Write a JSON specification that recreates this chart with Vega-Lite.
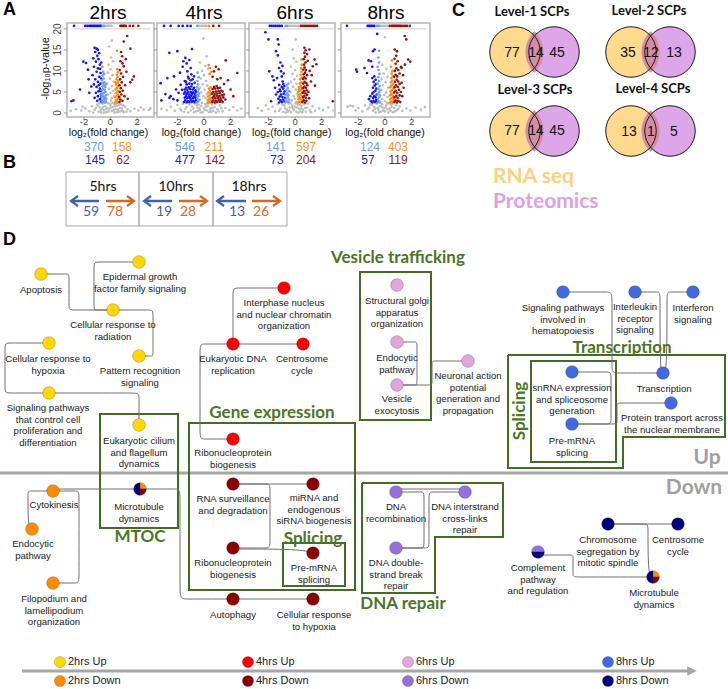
{
"$schema":"https://vega.github.io/schema/vega-lite/v6.json",
"width":728,"height":689,"autosize":"none","padding":0,"background":"white",
"config":{"view":{"stroke":null},"text":{"font":"Liberation Sans"}},
"datasets":{
"xt":[{"v":-2},{"v":0},{"v":2}],
"yt":[{"v":0},{"v":5},{"v":10},{"v":15},{"v":20}],
"guides":[{"x":0,"x2":728,"y":473},{"x":22,"x2":689,"y":671}],
"arrowhead":[{"x":692,"y":671}],
"boxes":[{"b":"Vesicle trafficking","x":360,"x2":431,"y":272,"y2":420},{"b":"Gene expression","x":189,"x2":355,"y":423,"y2":590},{"b":"MTOC","x":100,"x2":178,"y":414,"y2":528},{"b":"Splicing up","x":531,"x2":616,"y":361,"y2":462},{"b":"Splicing down","x":283,"x2":345,"y":543,"y2":586}],
"polys":[
{"b":"Transcription","i":0,"x":508,"y":355},{"b":"Transcription","i":1,"x":725,"y":355},{"b":"Transcription","i":2,"x":725,"y":437},{"b":"Transcription","i":3,"x":623,"y":437},{"b":"Transcription","i":4,"x":623,"y":468},{"b":"Transcription","i":5,"x":508,"y":468},{"b":"Transcription","i":6,"x":508,"y":355},
{"b":"DNA repair","i":0,"x":362,"y":483},{"b":"DNA repair","i":1,"x":503,"y":483},{"b":"DNA repair","i":2,"x":503,"y":537},{"b":"DNA repair","i":3,"x":435,"y":537},{"b":"DNA repair","i":4,"x":435,"y":593},{"b":"DNA repair","i":5,"x":362,"y":593},{"b":"DNA repair","i":6,"x":362,"y":483}],
"edges":[
{"e":1,"i":0,"x":41,"y":274},{"e":1,"i":1,"x":69,"y":274},{"e":1,"i":2,"x":69,"y":274},{"e":1,"i":3,"x":69,"y":310},{"e":1,"i":4,"x":69,"y":310},{"e":1,"i":5,"x":113,"y":310},
{"e":2,"i":0,"x":139,"y":262},{"e":2,"i":1,"x":94,"y":262},{"e":2,"i":2,"x":94,"y":262},{"e":2,"i":3,"x":94,"y":310},{"e":2,"i":4,"x":94,"y":310},{"e":2,"i":5,"x":113,"y":310},
{"e":3,"i":0,"x":113,"y":310},{"e":3,"i":1,"x":153,"y":310},{"e":3,"i":2,"x":153,"y":310},{"e":3,"i":3,"x":153,"y":356},{"e":3,"i":4,"x":153,"y":356},{"e":3,"i":5,"x":139,"y":356},
{"e":4,"i":0,"x":49,"y":343},{"e":4,"i":1,"x":5,"y":343},{"e":4,"i":2,"x":5,"y":343},{"e":4,"i":3,"x":5,"y":393},{"e":4,"i":4,"x":5,"y":393},{"e":4,"i":5,"x":49,"y":393},
{"e":5,"i":0,"x":49,"y":393},{"e":5,"i":1,"x":139,"y":393},{"e":5,"i":2,"x":139,"y":393},{"e":5,"i":3,"x":139,"y":425},
{"e":6,"i":0,"x":284,"y":288},{"e":6,"i":1,"x":233,"y":288},{"e":6,"i":2,"x":233,"y":288},{"e":6,"i":3,"x":233,"y":344},
{"e":7,"i":0,"x":233,"y":344},{"e":7,"i":1,"x":303,"y":344},
{"e":8,"i":0,"x":233,"y":344},{"e":8,"i":1,"x":200,"y":344},{"e":8,"i":2,"x":200,"y":344},{"e":8,"i":3,"x":200,"y":439},{"e":8,"i":4,"x":200,"y":439},{"e":8,"i":5,"x":233,"y":439},
{"e":9,"i":0,"x":397,"y":342},{"e":9,"i":1,"x":417,"y":342},{"e":9,"i":2,"x":417,"y":342},{"e":9,"i":3,"x":417,"y":385},{"e":9,"i":4,"x":417,"y":385},{"e":9,"i":5,"x":397,"y":385},
{"e":10,"i":0,"x":397,"y":385},{"e":10,"i":1,"x":432,"y":385},{"e":10,"i":2,"x":432,"y":385},{"e":10,"i":3,"x":432,"y":361},{"e":10,"i":4,"x":432,"y":361},{"e":10,"i":5,"x":468,"y":361},
{"e":11,"i":0,"x":563,"y":292},{"e":11,"i":1,"x":612,"y":292},{"e":11,"i":2,"x":612,"y":292},{"e":11,"i":3,"x":612,"y":373},{"e":11,"i":4,"x":612,"y":373},{"e":11,"i":5,"x":663,"y":373},
{"e":12,"i":0,"x":635,"y":292},{"e":12,"i":1,"x":660,"y":292},{"e":12,"i":2,"x":660,"y":292},{"e":12,"i":3,"x":660,"y":373},{"e":12,"i":4,"x":663,"y":373},
{"e":13,"i":0,"x":693,"y":292},{"e":13,"i":1,"x":667,"y":292},{"e":13,"i":2,"x":667,"y":292},{"e":13,"i":3,"x":667,"y":373},{"e":13,"i":4,"x":663,"y":373},
{"e":14,"i":0,"x":572,"y":372},{"e":14,"i":1,"x":611,"y":372},{"e":14,"i":2,"x":611,"y":372},{"e":14,"i":3,"x":611,"y":424},{"e":14,"i":4,"x":611,"y":424},{"e":14,"i":5,"x":572,"y":424},
{"e":15,"i":0,"x":572,"y":424},{"e":15,"i":1,"x":617,"y":424},{"e":15,"i":2,"x":617,"y":424},{"e":15,"i":3,"x":617,"y":403},{"e":15,"i":4,"x":617,"y":403},{"e":15,"i":5,"x":671,"y":403},
{"e":16,"i":0,"x":53,"y":491},{"e":16,"i":1,"x":28,"y":491},{"e":16,"i":2,"x":28,"y":491},{"e":16,"i":3,"x":28,"y":529},{"e":16,"i":4,"x":32,"y":529},
{"e":17,"i":0,"x":53,"y":491},{"e":17,"i":1,"x":79,"y":491},{"e":17,"i":2,"x":79,"y":491},{"e":17,"i":3,"x":79,"y":583},{"e":17,"i":4,"x":79,"y":583},{"e":17,"i":5,"x":53,"y":583},
{"e":18,"i":0,"x":53,"y":489},{"e":18,"i":1,"x":140,"y":489},
{"e":19,"i":0,"x":140,"y":489},{"e":19,"i":1,"x":180,"y":489},{"e":19,"i":2,"x":180,"y":489},{"e":19,"i":3,"x":180,"y":599},{"e":19,"i":4,"x":180,"y":599},{"e":19,"i":5,"x":233,"y":599},
{"e":20,"i":0,"x":233,"y":484},{"e":20,"i":1,"x":313,"y":484},
{"e":21,"i":0,"x":233,"y":484},{"e":21,"i":1,"x":270,"y":484},{"e":21,"i":2,"x":270,"y":484},{"e":21,"i":3,"x":270,"y":548},{"e":21,"i":4,"x":270,"y":548},{"e":21,"i":5,"x":233,"y":548},
{"e":22,"i":0,"x":233,"y":549},{"e":22,"i":1,"x":300,"y":549},{"e":22,"i":2,"x":313,"y":553},
{"e":23,"i":0,"x":233,"y":599},{"e":23,"i":1,"x":313,"y":599},
{"e":24,"i":0,"x":396,"y":492},{"e":24,"i":1,"x":424,"y":492},{"e":24,"i":2,"x":424,"y":492},{"e":24,"i":3,"x":424,"y":548},{"e":24,"i":4,"x":424,"y":548},{"e":24,"i":5,"x":396,"y":548},
{"e":25,"i":0,"x":465,"y":492},{"e":25,"i":1,"x":429,"y":492},{"e":25,"i":2,"x":429,"y":492},{"e":25,"i":3,"x":429,"y":548},{"e":25,"i":4,"x":429,"y":548},{"e":25,"i":5,"x":396,"y":548},
{"e":26,"i":0,"x":396,"y":489},{"e":26,"i":1,"x":465,"y":489},
{"e":27,"i":0,"x":608,"y":524},{"e":27,"i":1,"x":678,"y":524},
{"e":28,"i":0,"x":608,"y":524},{"e":28,"i":1,"x":648,"y":524},{"e":28,"i":2,"x":648,"y":524},{"e":28,"i":3,"x":648,"y":577},{"e":28,"i":4,"x":653,"y":577},
{"e":29,"i":0,"x":538,"y":555},{"e":29,"i":1,"x":573,"y":555},{"e":29,"i":2,"x":573,"y":555},{"e":29,"i":3,"x":573,"y":577},{"e":29,"i":4,"x":573,"y":577},{"e":29,"i":5,"x":653,"y":577}],
"nodes":[
{"n":"Apoptosis","g":"2hrs Up","s":"full","x":41,"y":274},
{"n":"Epidermal growth factor family signaling","g":"2hrs Up","s":"full","x":139,"y":262},
{"n":"Cellular response to radiation","g":"2hrs Up","s":"full","x":113,"y":310},
{"n":"Pattern recognition signaling","g":"2hrs Up","s":"full","x":139,"y":356},
{"n":"Cellular response to hypoxia","g":"2hrs Up","s":"full","x":49,"y":343},
{"n":"Signaling pathways that control cell proliferation and differentiation","g":"2hrs Up","s":"full","x":49,"y":393},
{"n":"Eukaryotic cilium and flagellum dynamics","g":"2hrs Up","s":"full","x":139,"y":425},
{"n":"Interphase nucleus and nuclear chromatin organization","g":"4hrs Up","s":"full","x":284,"y":288},
{"n":"Eukaryotic DNA replication","g":"4hrs Up","s":"full","x":233,"y":344},
{"n":"Centrosome cycle","g":"4hrs Up","s":"full","x":303,"y":344},
{"n":"Ribonucleoprotein biogenesis","g":"4hrs Up","s":"full","x":233,"y":439},
{"n":"Structural golgi apparatus organization","g":"6hrs Up","s":"full","x":397,"y":285},
{"n":"Endocytic pathway","g":"6hrs Up","s":"full","x":397,"y":342},
{"n":"Vesicle exocytosis","g":"6hrs Up","s":"full","x":397,"y":385},
{"n":"Neuronal action potential generation and propagation","g":"6hrs Up","s":"full","x":468,"y":361},
{"n":"Signaling pathways involved in hematopoiesis","g":"8hrs Up","s":"full","x":563,"y":292},
{"n":"Interleukin receptor signaling","g":"8hrs Up","s":"full","x":635,"y":292},
{"n":"Interferon signaling","g":"8hrs Up","s":"full","x":693,"y":292},
{"n":"Transcription","g":"8hrs Up","s":"full","x":663,"y":373},
{"n":"snRNA expression and spliceosome generation","g":"8hrs Up","s":"full","x":572,"y":372},
{"n":"Pre-mRNA splicing","g":"8hrs Up","s":"full","x":572,"y":424},
{"n":"Protein transport across the nuclear membrane","g":"8hrs Up","s":"full","x":671,"y":403},
{"n":"Cytokinesis","g":"2hrs Down","s":"full","x":53,"y":491},
{"n":"Endocytic pathway","g":"2hrs Down","s":"full","x":32,"y":529},
{"n":"Filopodium and lamellipodium organization","g":"2hrs Down","s":"full","x":53,"y":583},
{"n":"Microtubule dynamics","g":"8hrs Down","s":"left","x":140,"y":489},
{"n":"Microtubule dynamics","g":"2hrs Down","s":"tr","x":140,"y":489},
{"n":"Microtubule dynamics","g":"4hrs Down","s":"br","x":140,"y":489},
{"n":"Autophagy","g":"4hrs Down","s":"full","x":233,"y":599},
{"n":"Cellular response to hypoxia","g":"4hrs Down","s":"full","x":313,"y":599},
{"n":"RNA surveillance and degradation","g":"4hrs Down","s":"full","x":233,"y":484},
{"n":"miRNA and endogenous siRNA biogenesis","g":"4hrs Down","s":"full","x":313,"y":484},
{"n":"Ribonucleoprotein biogenesis","g":"4hrs Down","s":"full","x":233,"y":548},
{"n":"Pre-mRNA splicing","g":"4hrs Down","s":"full","x":313,"y":553},
{"n":"DNA recombination","g":"6hrs Down","s":"full","x":396,"y":492},
{"n":"DNA interstrand cross-links repair","g":"6hrs Down","s":"full","x":465,"y":492},
{"n":"DNA double-strand break repair","g":"6hrs Down","s":"full","x":396,"y":548},
{"n":"Chromosome segregation by mitotic spindle","g":"8hrs Down","s":"full","x":608,"y":524},
{"n":"Centrosome cycle","g":"8hrs Down","s":"full","x":678,"y":524},
{"n":"Complement pathway and regulation","g":"6hrs Down","s":"top","x":538,"y":552},
{"n":"Complement pathway and regulation","g":"8hrs Down","s":"bot","x":538,"y":552},
{"n":"Microtubule dynamics","g":"8hrs Down","s":"left","x":653,"y":577},
{"n":"Microtubule dynamics","g":"2hrs Down","s":"tr","x":653,"y":577},
{"n":"Microtubule dynamics","g":"4hrs Down","s":"br","x":653,"y":577}],
"labels":[
{"l":"Apoptosis","x":41,"y":289},
{"l":["Epidermal growth","factor family signaling"],"x":140,"y":276},
{"l":["Cellular response to","radiation"],"x":113,"y":324},
{"l":["Pattern recognition","signaling"],"x":140,"y":370},
{"l":["Cellular response to","hypoxia"],"x":48,"y":358},
{"l":["Signaling pathways","that control cell","proliferation and","differentiation"],"x":48,"y":407},
{"l":["Eukaryotic cilium","and flagellum","dynamics"],"x":139,"y":440},
{"l":["Interphase nucleus","and nuclear chromatin","organization"],"x":284,"y":302},
{"l":["Eukaryotic DNA","replication"],"x":233,"y":358},
{"l":["Centrosome","cycle"],"x":302,"y":358},
{"l":["Ribonucleoprotein","biogenesis"],"x":233,"y":452},
{"l":["Structural golgi","apparatus","organization"],"x":397,"y":300},
{"l":["Endocytic","pathway"],"x":397,"y":357},
{"l":["Vesicle","exocytosis"],"x":397,"y":398},
{"l":["Neuronal action","potential","generation and","propagation"],"x":468,"y":375},
{"l":["Signaling pathways","involved in","hematopoiesis"],"x":563,"y":307},
{"l":["Interleukin","receptor","signaling"],"x":635,"y":306},
{"l":["Interferon","signaling"],"x":693,"y":307},
{"l":"Transcription","x":664,"y":388},
{"l":["snRNA expression","and spliceosome","generation"],"x":572,"y":387},
{"l":["Pre-mRNA","splicing"],"x":572,"y":440},
{"l":["Protein transport across","the nuclear membrane"],"x":672,"y":417},
{"l":"Cytokinesis","x":54,"y":504},
{"l":["Endocytic","pathway"],"x":33,"y":543},
{"l":["Filopodium and","lamellipodium","organization"],"x":54,"y":598},
{"l":["Microtubule","dynamics"],"x":139,"y":506},
{"l":["RNA surveillance","and degradation"],"x":233,"y":498},
{"l":["miRNA and","endogenous","siRNA biogenesis"],"x":314,"y":497},
{"l":["Ribonucleoprotein","biogenesis"],"x":233,"y":562},
{"l":["Pre-mRNA","splicing"],"x":314,"y":567},
{"l":"Autophagy","x":233,"y":614},
{"l":["Cellular response","to hypoxia"],"x":314,"y":614},
{"l":["DNA","recombination"],"x":396,"y":506},
{"l":["DNA interstrand","cross-links","repair"],"x":465,"y":506},
{"l":["DNA double-","strand break","repair"],"x":396,"y":562},
{"l":["Chromosome","segregation by","mitotic spindle"],"x":608,"y":539},
{"l":["Centrosome","cycle"],"x":678,"y":539},
{"l":["Complement","pathway","and regulation"],"x":538,"y":567},
{"l":["Microtubule","dynamics"],"x":654,"y":592}],
"groups":[{"t":"Vesicle trafficking","x":398,"y":258},{"t":"Gene expression","x":272,"y":413},{"t":"MTOC","x":140,"y":537},{"t":"Transcription","x":622,"y":347.5},{"t":"Splicing","x":313,"y":538.5},{"t":"DNA repair","x":403,"y":604}],
"groupsrot":[{"t":"Splicing","x":520,"y":411}],
"updown":[{"t":"Up","x":707,"y":458},{"t":"Down","x":694,"y":488}],
"legend":[{"g":"2hrs Up","x":60,"y":662},{"g":"2hrs Down","x":60,"y":681},{"g":"4hrs Up","x":248,"y":662},{"g":"4hrs Down","x":248,"y":681},{"g":"6hrs Up","x":408,"y":662},{"g":"6hrs Down","x":408,"y":681},{"g":"8hrs Up","x":608,"y":662},{"g":"8hrs Down","x":608,"y":681}],
"letters":[{"t":"A","x":3,"y":10},{"t":"B","x":3,"y":163},{"t":"C","x":452,"y":11},{"t":"D","x":3,"y":240}],
"vtitles":[{"t":"2hrs","x":108,"y":13},{"t":"4hrs","x":204,"y":13},{"t":"6hrs","x":295,"y":13},{"t":"8hrs","x":386,"y":13}],
"counts":[
{"panel":"2hrs","c":"l","t":"370","x":94,"y":146.5},{"panel":"2hrs","c":"o","t":"158","x":122,"y":146.5},{"panel":"2hrs","c":"b","t":"145","x":95,"y":160},{"panel":"2hrs","c":"r","t":"62","x":123,"y":160},
{"panel":"4hrs","c":"l","t":"546","x":185,"y":146.5},{"panel":"4hrs","c":"o","t":"211","x":214,"y":146.5},{"panel":"4hrs","c":"b","t":"477","x":185,"y":160},{"panel":"4hrs","c":"r","t":"142","x":215,"y":160},
{"panel":"6hrs","c":"l","t":"141","x":276,"y":146.5},{"panel":"6hrs","c":"o","t":"597","x":306,"y":146.5},{"panel":"6hrs","c":"b","t":"73","x":277,"y":160},{"panel":"6hrs","c":"r","t":"204","x":306,"y":160},
{"panel":"8hrs","c":"l","t":"124","x":370,"y":146.5},{"panel":"8hrs","c":"o","t":"403","x":398,"y":146.5},{"panel":"8hrs","c":"b","t":"57","x":368,"y":160},{"panel":"8hrs","c":"r","t":"119","x":398,"y":160}],
"venncircles":[{"lvl":"Level-1","set":"RNA seq","x":515,"y":52},{"lvl":"Level-1","set":"Proteomics","x":554,"y":52},{"lvl":"Level-2","set":"RNA seq","x":631,"y":52},{"lvl":"Level-2","set":"Proteomics","x":670,"y":52},{"lvl":"Level-3","set":"RNA seq","x":515,"y":131},{"lvl":"Level-3","set":"Proteomics","x":554,"y":131},{"lvl":"Level-4","set":"RNA seq","x":631,"y":131},{"lvl":"Level-4","set":"Proteomics","x":670,"y":131}],
"vennlens":[{"lvl":"Level-1","x":534.5,"y":52},{"lvl":"Level-2","x":650.5,"y":52},{"lvl":"Level-3","x":534.5,"y":131},{"lvl":"Level-4","x":650.5,"y":131}],
"vennnums":[{"lvl":"Level-1","n":77,"x":512,"y":53},{"lvl":"Level-1","n":14,"x":536,"y":53},{"lvl":"Level-1","n":45,"x":557,"y":53},{"lvl":"Level-2","n":35,"x":628,"y":53},{"lvl":"Level-2","n":12,"x":651,"y":53},{"lvl":"Level-2","n":13,"x":674,"y":53},{"lvl":"Level-3","n":77,"x":512,"y":131},{"lvl":"Level-3","n":14,"x":536,"y":131},{"lvl":"Level-3","n":45,"x":557,"y":131},{"lvl":"Level-4","n":13,"x":629,"y":132},{"lvl":"Level-4","n":1,"x":651,"y":132},{"lvl":"Level-4","n":5,"x":674,"y":132}],
"venntitles":[{"t":"Level-1 SCPs","x":532,"y":12},{"t":"Level-2 SCPs","x":649,"y":11},{"t":"Level-3 SCPs","x":535,"y":90},{"t":"Level-4 SCPs","x":653,"y":89}],
"vennlegend":[{"t":"RNA seq","x":493,"y":176.5},{"t":"Proteomics","x":493,"y":201.5}],
"bcells":[{"t":"5hrs","x":66,"x2":139,"y":172,"y2":226},{"t":"10hrs","x":139,"x2":213,"y":172,"y2":226},{"t":"18hrs","x":213,"x2":287,"y":172,"y2":226}],
"btitles":[{"t":"5hrs","x":103,"y":187},{"t":"10hrs","x":176,"y":187},{"t":"18hrs","x":249,"y":187}],
"barrows":[{"t":"5hrs","d":"down","x":71,"x2":99,"y":201},{"t":"5hrs","d":"up","x":106,"x2":134,"y":201},{"t":"10hrs","d":"down","x":144,"x2":172,"y":201},{"t":"10hrs","d":"up","x":179,"x2":207,"y":201},{"t":"18hrs","d":"down","x":217,"x2":246,"y":201},{"t":"18hrs","d":"up","x":252,"x2":280,"y":201}],
"bnums":[{"t":"5hrs","d":"down","n":59,"x":91,"y":212},{"t":"5hrs","d":"up","n":78,"x":115,"y":212},{"t":"10hrs","d":"down","n":19,"x":164,"y":212},{"t":"10hrs","d":"up","n":28,"x":188,"y":212},{"t":"18hrs","d":"down","n":13,"x":237,"y":212},{"t":"18hrs","d":"up","n":26,"x":261,"y":212}],
"v1":[
{"c":"a","x":-0.4,"y":20.7},{"c":"a","x":-0.3,"y":20.7},{"c":"a","x":-0.2,"y":20.7},{"c":"a","x":-0.1,"y":20.7},{"c":"a","x":0,"y":20.7},{"c":"a","x":0.1,"y":20.7},
{"c":"a","x":0.1,"y":17.2},{"c":"a","x":-0.1,"y":15.8},{"c":"a","x":0.05,"y":13.2},{"c":"a","x":-0.15,"y":11.5},{"c":"a","x":0.2,"y":12.3},{"c":"a","x":0,"y":10.4},{"c":"a","x":-0.2,"y":9.6},{"c":"a","x":0.15,"y":9},{"c":"a","x":-0.05,"y":8.2},{"c":"a","x":0.25,"y":7.5},{"c":"a","x":-0.25,"y":7},{"c":"a","x":0.1,"y":6.4},{"c":"a","x":-0.1,"y":5.8},{"c":"a","x":0.2,"y":5.3},{"c":"a","x":0,"y":4.8},{"c":"a","x":-0.2,"y":4.4},{"c":"a","x":0.28,"y":4},{"c":"a","x":0.1,"y":3.6},{"c":"a","x":-0.3,"y":3.4},{"c":"a","x":0.05,"y":3},
{"c":"a","x":-3,"y":0.5},{"c":"a","x":-2.6,"y":0.9},{"c":"a","x":-2.2,"y":0.6},{"c":"a","x":-2.1,"y":1.5},{"c":"a","x":-1.9,"y":1.1},{"c":"a","x":-1.6,"y":0.4},{"c":"a","x":-1.4,"y":1.6},{"c":"a","x":-1.3,"y":0.1},{"c":"a","x":-1.2,"y":0.8},{"c":"a","x":-1,"y":2},{"c":"a","x":-0.9,"y":0.3},{"c":"a","x":-0.8,"y":1.3},{"c":"a","x":-0.7,"y":0.1},{"c":"a","x":-0.6,"y":2.2},{"c":"a","x":-0.5,"y":0.7},{"c":"a","x":-0.45,"y":2.4},{"c":"a","x":-0.4,"y":1.6},{"c":"a","x":-0.3,"y":0.2},{"c":"a","x":-0.25,"y":1.2},{"c":"a","x":-0.2,"y":2.3},{"c":"a","x":-0.1,"y":1},{"c":"a","x":0,"y":1.8},{"c":"a","x":0.1,"y":0.5},{"c":"a","x":0.15,"y":2.4},{"c":"a","x":0.2,"y":1.4},{"c":"a","x":0.3,"y":2.1},{"c":"a","x":0.3,"y":0.1},{"c":"a","x":0.4,"y":0.9},{"c":"a","x":0.45,"y":2.3},{"c":"a","x":0.5,"y":1.7},{"c":"a","x":0.6,"y":0.3},{"c":"a","x":0.7,"y":1.2},{"c":"a","x":0.8,"y":2},{"c":"a","x":0.9,"y":0.6},{"c":"a","x":1,"y":0.2},{"c":"a","x":1.1,"y":1.5},{"c":"a","x":1.3,"y":0.9},{"c":"a","x":1.5,"y":0.4},{"c":"a","x":1.8,"y":1},{"c":"a","x":2.1,"y":0.6},{"c":"a","x":2.3,"y":1.3},{"c":"a","x":2.5,"y":0.8},{"c":"a","x":2.9,"y":0.7},{"c":"a","x":3,"y":1.1},{"c":"a","x":-0.95,"y":1.7},{"c":"a","x":-0.75,"y":0.6},{"c":"a","x":-0.55,"y":1.4},{"c":"a","x":-0.35,"y":0.9},{"c":"a","x":-0.15,"y":0.4},{"c":"a","x":0.05,"y":1.3},{"c":"a","x":0.25,"y":0.7},{"c":"a","x":0.35,"y":1.6},{"c":"a","x":0.55,"y":0.8},{"c":"a","x":0.65,"y":1.9},{"c":"a","x":0.75,"y":0.4},{"c":"a","x":-0.65,"y":1},{"c":"a","x":-0.85,"y":2.3},{"c":"a","x":0.85,"y":1.1},{"c":"a","x":-0.05,"y":2.2},{"c":"a","x":0.5,"y":0.2},{"c":"a","x":-0.5,"y":0.1},{"c":"a","x":1.2,"y":0.3},{"c":"a","x":-1.1,"y":1.2},{"c":"a","x":0.95,"y":1.8},
{"c":"b","x":-2.75,"y":20.7},{"c":"b","x":-1.9,"y":20.7},{"c":"b","x":-1.75,"y":20.7},{"c":"b","x":-1.6,"y":20.7},{"c":"b","x":-1.5,"y":20.7},{"c":"b","x":-1.4,"y":20.7},{"c":"b","x":-1.3,"y":20.7},{"c":"b","x":-1.2,"y":20.7},{"c":"b","x":-1.1,"y":20.7},{"c":"b","x":-1,"y":20.7},{"c":"b","x":-0.9,"y":20.7},{"c":"b","x":-0.8,"y":20.7},{"c":"b","x":-0.7,"y":20.7},
{"c":"b","x":-2.95,"y":2.8},{"c":"b","x":-2.8,"y":3},{"c":"b","x":-2.3,"y":5.6},{"c":"b","x":-2.05,"y":12.2},{"c":"b","x":-1.85,"y":11.9},{"c":"b","x":-1.7,"y":10.3},{"c":"b","x":-1.65,"y":8},{"c":"b","x":-1.45,"y":6.3},{"c":"b","x":-1.6,"y":4.8},{"c":"b","x":-1.2,"y":15.5},{"c":"b","x":-1.05,"y":15.3},{"c":"b","x":-0.95,"y":15},{"c":"b","x":-1.15,"y":14.5},{"c":"b","x":-0.85,"y":14.2},{"c":"b","x":-1,"y":13.6},{"c":"b","x":-1.3,"y":13},{"c":"b","x":-0.9,"y":12.8},{"c":"b","x":-1.1,"y":12.2},{"c":"b","x":-0.8,"y":11.5},{"c":"b","x":-1.25,"y":11},{"c":"b","x":-0.95,"y":10.6},{"c":"b","x":-1.05,"y":9.8},{"c":"b","x":-0.75,"y":9.5},{"c":"b","x":-1.35,"y":9},{"c":"b","x":-0.85,"y":8.6},{"c":"b","x":-1.15,"y":8},{"c":"b","x":-0.95,"y":7.4},{"c":"b","x":-0.75,"y":7},{"c":"b","x":-1.25,"y":6.8},{"c":"b","x":-1.05,"y":6.2},{"c":"b","x":-0.8,"y":5.8},{"c":"b","x":-0.9,"y":5.2},{"c":"b","x":-1.1,"y":4.8},{"c":"b","x":-0.72,"y":4.4},{"c":"b","x":-0.95,"y":4},{"c":"b","x":-1.2,"y":3.6},{"c":"b","x":-0.8,"y":3.3},{"c":"b","x":-1,"y":2.9},{"c":"b","x":-0.7,"y":2.7},{"c":"b","x":-0.88,"y":6.6},{"c":"b","x":-0.7,"y":8.2},{"c":"b","x":-0.78,"y":10.5},{"c":"b","x":-0.7,"y":12},{"c":"b","x":-0.68,"y":3.8},{"c":"b","x":-0.74,"y":5.2},
{"c":"l","x":-0.6,"y":20.7},{"c":"l","x":-0.5,"y":20.7},{"c":"l","x":-0.65,"y":2.5},{"c":"l","x":-0.55,"y":2.6},{"c":"l","x":-0.45,"y":2.5},{"c":"l","x":-0.35,"y":2.7},{"c":"l","x":-0.6,"y":3.1},{"c":"l","x":-0.5,"y":3.3},{"c":"l","x":-0.4,"y":3},{"c":"l","x":-0.65,"y":3.8},{"c":"l","x":-0.55,"y":4},{"c":"l","x":-0.42,"y":3.7},{"c":"l","x":-0.35,"y":4.2},{"c":"l","x":-0.6,"y":4.6},{"c":"l","x":-0.48,"y":4.8},{"c":"l","x":-0.38,"y":5},{"c":"l","x":-0.66,"y":5.4},{"c":"l","x":-0.55,"y":5.7},{"c":"l","x":-0.44,"y":5.5},{"c":"l","x":-0.62,"y":6.3},{"c":"l","x":-0.5,"y":6.5},{"c":"l","x":-0.4,"y":6.2},{"c":"l","x":-0.58,"y":7.1},{"c":"l","x":-0.46,"y":7.3},{"c":"l","x":-0.64,"y":7.8},{"c":"l","x":-0.52,"y":8.2},{"c":"l","x":-0.6,"y":8.9},{"c":"l","x":-0.48,"y":9.3},{"c":"l","x":-0.56,"y":9.8},{"c":"l","x":-0.36,"y":6.8},{"c":"l","x":-0.68,"y":4.3},{"c":"l","x":-0.34,"y":3.4},{"c":"l","x":-0.62,"y":11},
{"c":"o","x":0.35,"y":2.5},{"c":"o","x":0.45,"y":2.6},{"c":"o","x":0.55,"y":2.5},{"c":"o","x":0.4,"y":3.1},{"c":"o","x":0.5,"y":3.2},{"c":"o","x":0.58,"y":3.4},{"c":"o","x":0.36,"y":3.8},{"c":"o","x":0.47,"y":4},{"c":"o","x":0.56,"y":4.3},{"c":"o","x":0.4,"y":4.7},{"c":"o","x":0.52,"y":5},{"c":"o","x":0.6,"y":5.3},{"c":"o","x":0.37,"y":5.6},{"c":"o","x":0.47,"y":5.9},{"c":"o","x":0.55,"y":6.3},{"c":"o","x":0.42,"y":6.8},{"c":"o","x":0.52,"y":7.1},{"c":"o","x":0.58,"y":7.6},{"c":"o","x":0.45,"y":8},{"c":"o","x":0.53,"y":8.5},{"c":"o","x":0.48,"y":9.1},{"c":"o","x":0.56,"y":9.7},{"c":"o","x":0.5,"y":10.4},{"c":"o","x":0.5,"y":14.8},{"c":"o","x":0.38,"y":7.3},{"c":"o","x":0.6,"y":4},
{"c":"r","x":0.75,"y":20.7},{"c":"r","x":0.85,"y":20.7},{"c":"r","x":0.95,"y":20.7},{"c":"r","x":1.05,"y":20.7},{"c":"r","x":1.15,"y":20.7},{"c":"r","x":1.45,"y":20.7},{"c":"r","x":1.7,"y":20.7},{"c":"r","x":2.1,"y":20.7},
{"c":"r","x":1.26,"y":18.3},{"c":"r","x":1,"y":17},{"c":"r","x":1.5,"y":15.3},{"c":"r","x":0.88,"y":13.5},{"c":"r","x":0.75,"y":12.3},{"c":"r","x":1,"y":11.1},{"c":"r","x":1.76,"y":8.7},{"c":"r","x":1.64,"y":7.9},{"c":"r","x":1.5,"y":7.3},{"c":"r","x":0.7,"y":10.2},{"c":"r","x":0.8,"y":9.4},{"c":"r","x":0.95,"y":8.6},{"c":"r","x":0.72,"y":8},{"c":"r","x":0.85,"y":7.3},{"c":"r","x":1.1,"y":6.6},{"c":"r","x":0.68,"y":6.6},{"c":"r","x":0.78,"y":5.9},{"c":"r","x":0.92,"y":5.3},{"c":"r","x":0.7,"y":5},{"c":"r","x":0.82,"y":4.4},{"c":"r","x":1.05,"y":4},{"c":"r","x":0.66,"y":3.8},{"c":"r","x":0.74,"y":3.2},{"c":"r","x":0.9,"y":2.9},{"c":"r","x":0.68,"y":2.6},{"c":"r","x":1.2,"y":9.8},{"c":"r","x":0.9,"y":11.8},{"c":"r","x":1.15,"y":12.8},{"c":"r","x":0.8,"y":14.5},{"c":"r","x":1.3,"y":3.4}],
"v2":[
{"c":"a","x":-0.35,"y":20.7},{"c":"a","x":-0.2,"y":20.7},{"c":"a","x":-0.05,"y":20.7},{"c":"a","x":0.1,"y":20.7},{"c":"a","x":0.2,"y":20.7},
{"c":"a","x":-0.05,"y":17.7},{"c":"a","x":0.2,"y":13.5},{"c":"a","x":-0.3,"y":12},{"c":"a","x":0.1,"y":11.2},{"c":"a","x":-0.15,"y":10},{"c":"a","x":0.3,"y":10.5},{"c":"a","x":0,"y":9},{"c":"a","x":-0.25,"y":8.2},{"c":"a","x":0.15,"y":7.6},{"c":"a","x":-0.1,"y":6.8},{"c":"a","x":0.25,"y":6.5},{"c":"a","x":-0.3,"y":6},{"c":"a","x":0.05,"y":5.5},{"c":"a","x":-0.2,"y":5},{"c":"a","x":0.2,"y":4.5},{"c":"a","x":-0.05,"y":4},{"c":"a","x":0.1,"y":3.5},{"c":"a","x":-0.3,"y":3.2},{"c":"a","x":0.25,"y":3},
{"c":"a","x":-3.2,"y":1},{"c":"a","x":-2.8,"y":0.7},{"c":"a","x":-2.5,"y":1.5},{"c":"a","x":-2.2,"y":0.5},{"c":"a","x":-2,"y":1.9},{"c":"a","x":-1.8,"y":1},{"c":"a","x":-1.6,"y":2.2},{"c":"a","x":-1.5,"y":0.3},{"c":"a","x":-1.3,"y":1.4},{"c":"a","x":-1.1,"y":2},{"c":"a","x":-1,"y":0.6},{"c":"a","x":-0.9,"y":1.5},{"c":"a","x":-0.7,"y":2.3},{"c":"a","x":-0.6,"y":0.4},{"c":"a","x":-0.5,"y":1.3},{"c":"a","x":-0.4,"y":2},{"c":"a","x":-0.3,"y":0.8},{"c":"a","x":-0.2,"y":1.7},{"c":"a","x":-0.1,"y":0.2},{"c":"a","x":0,"y":1.2},{"c":"a","x":0.1,"y":2.1},{"c":"a","x":0.2,"y":0.6},{"c":"a","x":0.3,"y":1.6},{"c":"a","x":0.4,"y":0.2},{"c":"a","x":0.5,"y":1.1},{"c":"a","x":0.6,"y":2},{"c":"a","x":0.7,"y":0.5},{"c":"a","x":0.8,"y":1.4},{"c":"a","x":1,"y":0.9},{"c":"a","x":1.2,"y":1.8},{"c":"a","x":1.4,"y":0.4},{"c":"a","x":1.6,"y":1.2},{"c":"a","x":1.9,"y":0.7},{"c":"a","x":2.2,"y":1.4},{"c":"a","x":2.5,"y":0.6},{"c":"a","x":2.8,"y":1},{"c":"a","x":-1.2,"y":0.1},{"c":"a","x":0.9,"y":0.1},{"c":"a","x":-0.8,"y":1},{"c":"a","x":0.35,"y":2.3},{"c":"a","x":-0.95,"y":2.4},{"c":"a","x":-0.75,"y":0.2},{"c":"a","x":-0.55,"y":1.9},{"c":"a","x":-0.35,"y":1.2},{"c":"a","x":-0.15,"y":2.4},{"c":"a","x":0.05,"y":0.7},{"c":"a","x":0.25,"y":2.3},{"c":"a","x":0.45,"y":0.8},{"c":"a","x":0.65,"y":1.2},{"c":"a","x":0.85,"y":2.2},{"c":"a","x":-0.45,"y":0.5},{"c":"a","x":0.15,"y":1.5},{"c":"a","x":-1.4,"y":1},{"c":"a","x":1.1,"y":0.4},{"c":"a","x":-0.25,"y":0.1},{"c":"a","x":0.55,"y":0.3},{"c":"a","x":1.3,"y":1.1},{"c":"a","x":-1.7,"y":0.6},
{"c":"b","x":-3,"y":20.7},{"c":"b","x":-2.5,"y":20.7},{"c":"b","x":-1.9,"y":20.7},{"c":"b","x":-1.6,"y":20.7},{"c":"b","x":-1.25,"y":20.7},{"c":"b","x":-1,"y":20.7},
{"c":"b","x":-3.26,"y":7.1},{"c":"b","x":-2.6,"y":14.3},{"c":"b","x":-2,"y":14.7},{"c":"b","x":-0.9,"y":15.2},{"c":"b","x":-1.55,"y":12.3},{"c":"b","x":-1.4,"y":13.1},{"c":"b","x":-2.75,"y":8.3},{"c":"b","x":-2.5,"y":4},{"c":"b","x":-2.6,"y":3.6},{"c":"b","x":-2.25,"y":8.7},{"c":"b","x":-1.25,"y":9.9},{"c":"b","x":-1,"y":10.7},{"c":"b","x":-0.75,"y":8.7},{"c":"b","x":-1.75,"y":6.7},{"c":"b","x":-2.1,"y":5.6},{"c":"b","x":-3.2,"y":3},{"c":"b","x":-2.9,"y":4.5},{"c":"b","x":-2.3,"y":3.3},{"c":"b","x":-1.9,"y":4.8},{"c":"b","x":-1.8,"y":9.6},{"c":"b","x":-1.6,"y":11},{"c":"b","x":-1.3,"y":11.8},{"c":"b","x":-1.1,"y":12.6},{"c":"b","x":-0.95,"y":9.2},{"c":"b","x":-1.15,"y":8.2},{"c":"b","x":-1.45,"y":7.6},{"c":"b","x":-0.7,"y":7.2},{"c":"b","x":-1.65,"y":5.5},{"c":"b","x":-2,"y":3},
{"c":"b","x":-1.5,"y":2.6},{"c":"b","x":-1.4,"y":3},{"c":"b","x":-1.3,"y":2.5},{"c":"b","x":-1.2,"y":2.8},{"c":"b","x":-1.1,"y":2.6},{"c":"b","x":-1,"y":3.1},{"c":"b","x":-0.9,"y":2.7},{"c":"b","x":-0.8,"y":2.9},{"c":"b","x":-0.7,"y":2.6},{"c":"b","x":-0.6,"y":3},{"c":"b","x":-1.45,"y":3.6},{"c":"b","x":-1.35,"y":4},{"c":"b","x":-1.25,"y":3.5},{"c":"b","x":-1.15,"y":3.9},{"c":"b","x":-1.05,"y":3.6},{"c":"b","x":-0.95,"y":4.1},{"c":"b","x":-0.85,"y":3.5},{"c":"b","x":-0.75,"y":3.9},{"c":"b","x":-0.65,"y":3.6},{"c":"b","x":-1.5,"y":4.6},{"c":"b","x":-1.4,"y":5},{"c":"b","x":-1.3,"y":4.5},{"c":"b","x":-1.2,"y":4.9},{"c":"b","x":-1.1,"y":4.4},{"c":"b","x":-1,"y":5},{"c":"b","x":-0.9,"y":4.6},{"c":"b","x":-0.8,"y":4.9},{"c":"b","x":-0.7,"y":4.5},{"c":"b","x":-0.6,"y":4.2},{"c":"b","x":-1.45,"y":5.6},{"c":"b","x":-1.35,"y":6},{"c":"b","x":-1.25,"y":5.5},{"c":"b","x":-1.15,"y":6.1},{"c":"b","x":-1.05,"y":5.7},{"c":"b","x":-0.95,"y":6.3},{"c":"b","x":-0.85,"y":5.6},{"c":"b","x":-0.75,"y":6},{"c":"b","x":-0.65,"y":5.4},{"c":"b","x":-1.3,"y":6.8},{"c":"b","x":-1.1,"y":7},{"c":"b","x":-0.9,"y":6.9},{"c":"b","x":-1,"y":7.8},{"c":"b","x":-1.2,"y":8.6},{"c":"b","x":-0.85,"y":8},{"c":"b","x":-1.35,"y":7.4},{"c":"b","x":-0.6,"y":5},
{"c":"l","x":-0.5,"y":20.7},{"c":"l","x":-0.55,"y":2.5},{"c":"l","x":-0.45,"y":2.7},{"c":"l","x":-0.38,"y":3.1},{"c":"l","x":-0.5,"y":3.5},{"c":"l","x":-0.42,"y":4},{"c":"l","x":-0.55,"y":4.4},{"c":"l","x":-0.46,"y":5},{"c":"l","x":-0.4,"y":5.6},{"c":"l","x":-0.52,"y":6.1},{"c":"l","x":-0.44,"y":6.8},{"c":"l","x":-0.5,"y":7.6},{"c":"l","x":-0.4,"y":8.5},{"c":"l","x":-0.48,"y":9.6},{"c":"l","x":-0.36,"y":4.6},
{"c":"o","x":0.38,"y":20.7},{"c":"o","x":0.3,"y":2.5},{"c":"o","x":0.4,"y":2.7},{"c":"o","x":0.5,"y":2.5},{"c":"o","x":0.35,"y":3.2},{"c":"o","x":0.45,"y":3.5},{"c":"o","x":0.52,"y":3},{"c":"o","x":0.3,"y":3.9},{"c":"o","x":0.42,"y":4.2},{"c":"o","x":0.5,"y":4.6},{"c":"o","x":0.34,"y":4.9},{"c":"o","x":0.46,"y":5.3},{"c":"o","x":0.38,"y":5.8},{"c":"o","x":0.5,"y":6.1},{"c":"o","x":0.45,"y":10.7},{"c":"o","x":0.55,"y":9.8},{"c":"o","x":0.35,"y":11.4},{"c":"o","x":0.42,"y":9.3},
{"c":"r","x":0.7,"y":20.7},{"c":"r","x":1.13,"y":20.7},
{"c":"r","x":1.63,"y":12.5},{"c":"r","x":2.5,"y":9.5},{"c":"r","x":1.25,"y":8.3},{"c":"r","x":0.75,"y":9.9},{"c":"r","x":1,"y":8},{"c":"r","x":2,"y":5.6},{"c":"r","x":1.8,"y":7.8},{"c":"r","x":1.5,"y":6.9},{"c":"r","x":2.2,"y":4},{"c":"r","x":0.9,"y":11},{"c":"r","x":1.1,"y":10.4},{"c":"r","x":0.65,"y":8.6},
{"c":"r","x":0.6,"y":2.6},{"c":"r","x":0.7,"y":3},{"c":"r","x":0.8,"y":2.5},{"c":"r","x":0.9,"y":2.9},{"c":"r","x":1,"y":2.6},{"c":"r","x":1.1,"y":3.1},{"c":"r","x":1.2,"y":2.7},{"c":"r","x":1.3,"y":3},{"c":"r","x":1.4,"y":2.6},{"c":"r","x":0.65,"y":3.6},{"c":"r","x":0.75,"y":4},{"c":"r","x":0.85,"y":3.5},{"c":"r","x":0.95,"y":4.1},{"c":"r","x":1.05,"y":3.6},{"c":"r","x":1.15,"y":4},{"c":"r","x":1.25,"y":3.5},{"c":"r","x":1.35,"y":4.2},{"c":"r","x":1.45,"y":3.7},{"c":"r","x":0.6,"y":4.6},{"c":"r","x":0.7,"y":5},{"c":"r","x":0.8,"y":4.5},{"c":"r","x":0.9,"y":5.1},{"c":"r","x":1,"y":4.6},{"c":"r","x":1.1,"y":5.2},{"c":"r","x":1.2,"y":4.7},{"c":"r","x":1.3,"y":5.3},{"c":"r","x":0.65,"y":5.7},{"c":"r","x":0.75,"y":6.2},{"c":"r","x":0.85,"y":5.8},{"c":"r","x":0.95,"y":6.4},{"c":"r","x":1.05,"y":5.9},{"c":"r","x":1.2,"y":6},{"c":"r","x":1.4,"y":5.1},{"c":"r","x":1.5,"y":4.4},{"c":"r","x":1.6,"y":3.2}],
"v3":[
{"c":"a","x":-0.45,"y":20.7},{"c":"a","x":-0.3,"y":20.7},{"c":"a","x":-0.15,"y":20.7},{"c":"a","x":0,"y":20.7},{"c":"a","x":0.15,"y":20.7},{"c":"a","x":0.3,"y":20.7},
{"c":"a","x":-0.18,"y":15.1},{"c":"a","x":0.05,"y":17.5},{"c":"a","x":-0.1,"y":13},{"c":"a","x":0.1,"y":12.2},{"c":"a","x":-0.3,"y":11},{"c":"a","x":0,"y":10.2},{"c":"a","x":-0.2,"y":9.3},{"c":"a","x":0.15,"y":8.8},{"c":"a","x":-0.05,"y":8},{"c":"a","x":-0.3,"y":7.4},{"c":"a","x":0.1,"y":7},{"c":"a","x":-0.15,"y":6.2},{"c":"a","x":0.05,"y":5.6},{"c":"a","x":-0.35,"y":5},{"c":"a","x":0.15,"y":4.6},{"c":"a","x":-0.1,"y":4},{"c":"a","x":0,"y":3.4},{"c":"a","x":-0.25,"y":3},{"c":"a","x":0.1,"y":2.6},
{"c":"a","x":-2.8,"y":1.2},{"c":"a","x":-2.5,"y":0.5},{"c":"a","x":-2.2,"y":1.8},{"c":"a","x":-2,"y":0.9},{"c":"a","x":-1.7,"y":1.5},{"c":"a","x":-1.5,"y":0.4},{"c":"a","x":-1.3,"y":2.1},{"c":"a","x":-1.1,"y":1},{"c":"a","x":-0.9,"y":0.3},{"c":"a","x":-0.8,"y":1.8},{"c":"a","x":-0.6,"y":0.8},{"c":"a","x":-0.5,"y":2.2},{"c":"a","x":-0.4,"y":1.3},{"c":"a","x":-0.3,"y":0.2},{"c":"a","x":-0.2,"y":1.9},{"c":"a","x":-0.1,"y":0.7},{"c":"a","x":0,"y":1.5},{"c":"a","x":0.1,"y":0.3},{"c":"a","x":0.2,"y":2},{"c":"a","x":0.3,"y":1},{"c":"a","x":0.4,"y":0.4},{"c":"a","x":0.5,"y":1.7},{"c":"a","x":0.6,"y":0.8},{"c":"a","x":0.7,"y":2.1},{"c":"a","x":0.8,"y":0.3},{"c":"a","x":0.9,"y":1.3},{"c":"a","x":1.1,"y":0.7},{"c":"a","x":1.3,"y":1.6},{"c":"a","x":1.5,"y":0.5},{"c":"a","x":1.8,"y":1.1},{"c":"a","x":2.1,"y":0.7},{"c":"a","x":2.5,"y":1.3},{"c":"a","x":2.9,"y":0.6},{"c":"a","x":-0.7,"y":0.1},{"c":"a","x":0.25,"y":0.1},{"c":"a","x":-0.95,"y":2},{"c":"a","x":-0.75,"y":1.1},{"c":"a","x":-0.55,"y":0.3},{"c":"a","x":-0.35,"y":2.4},{"c":"a","x":-0.15,"y":1.1},{"c":"a","x":0.05,"y":2.3},{"c":"a","x":0.35,"y":1.9},{"c":"a","x":0.55,"y":0.2},{"c":"a","x":0.75,"y":1.2},{"c":"a","x":0.95,"y":2.2},{"c":"a","x":-0.45,"y":0.6},{"c":"a","x":0.45,"y":1.1},{"c":"a","x":-1.2,"y":0.5},{"c":"a","x":1.2,"y":0.2},{"c":"a","x":0.15,"y":1.3},{"c":"a","x":-0.25,"y":1.5},
{"c":"b","x":-1.9,"y":20.7},{"c":"b","x":-1.75,"y":20.7},{"c":"b","x":-1.6,"y":20.7},{"c":"b","x":-1.45,"y":20.7},{"c":"b","x":-1.3,"y":20.7},{"c":"b","x":-1.15,"y":20.7},{"c":"b","x":-1,"y":20.7},
{"c":"b","x":-2.23,"y":19.2},{"c":"b","x":-2,"y":17.5},{"c":"b","x":-1.3,"y":17.5},{"c":"b","x":-1.23,"y":16.3},{"c":"b","x":-1.43,"y":14.7},{"c":"b","x":-1.3,"y":13.7},{"c":"b","x":-1.94,"y":9.9},{"c":"b","x":-1.7,"y":8.7},{"c":"b","x":-1.2,"y":10.7},{"c":"b","x":-1.05,"y":9.9},{"c":"b","x":-0.93,"y":7.5},{"c":"b","x":-1.2,"y":6.7},{"c":"b","x":-1.43,"y":4.4},{"c":"b","x":-1.8,"y":2.8},{"c":"b","x":-1.6,"y":7.8},{"c":"b","x":-1.1,"y":12},{"c":"b","x":-0.95,"y":11.2},{"c":"b","x":-1.35,"y":8.3},{"c":"b","x":-1.5,"y":6},{"c":"b","x":-1,"y":8.7},{"c":"b","x":-0.85,"y":9.4},{"c":"b","x":-1.15,"y":5.6},{"c":"b","x":-1.3,"y":5},
{"c":"b","x":-1.2,"y":2.5},{"c":"b","x":-1.1,"y":3},{"c":"b","x":-1,"y":2.6},{"c":"b","x":-0.9,"y":3.2},{"c":"b","x":-0.8,"y":2.7},{"c":"b","x":-0.75,"y":3.6},{"c":"b","x":-1.15,"y":3.9},{"c":"b","x":-1.05,"y":4.4},{"c":"b","x":-0.95,"y":3.8},{"c":"b","x":-0.85,"y":4.6},{"c":"b","x":-0.78,"y":5.2},{"c":"b","x":-1.1,"y":5.2},{"c":"b","x":-0.9,"y":5.8},{"c":"b","x":-0.8,"y":6.4},{"c":"b","x":-1,"y":6.2},{"c":"b","x":-0.88,"y":6.9},{"c":"b","x":-1.25,"y":3.4},
{"c":"l","x":-0.7,"y":20.7},{"c":"l","x":-0.6,"y":20.7},{"c":"l","x":-0.72,"y":2.5},{"c":"l","x":-0.62,"y":2.8},{"c":"l","x":-0.5,"y":2.6},{"c":"l","x":-0.68,"y":3.4},{"c":"l","x":-0.56,"y":3.7},{"c":"l","x":-0.46,"y":3.2},{"c":"l","x":-0.7,"y":4.3},{"c":"l","x":-0.6,"y":4.7},{"c":"l","x":-0.5,"y":4.2},{"c":"l","x":-0.66,"y":5.4},{"c":"l","x":-0.55,"y":5.9},{"c":"l","x":-0.62,"y":6.6},{"c":"l","x":-0.5,"y":7},{"c":"l","x":-0.45,"y":5.2},
{"c":"o","x":0.22,"y":2.5},{"c":"o","x":0.32,"y":2.7},{"c":"o","x":0.42,"y":2.5},{"c":"o","x":0.52,"y":2.8},{"c":"o","x":0.25,"y":3.3},{"c":"o","x":0.36,"y":3.6},{"c":"o","x":0.47,"y":3.2},{"c":"o","x":0.28,"y":4.2},{"c":"o","x":0.4,"y":4.5},{"c":"o","x":0.5,"y":4.1},{"c":"o","x":0.24,"y":5},{"c":"o","x":0.34,"y":5.3},{"c":"o","x":0.46,"y":5.6},{"c":"o","x":0.3,"y":6.1},{"c":"o","x":0.42,"y":6.4},{"c":"o","x":0.52,"y":6},{"c":"o","x":0.35,"y":7},{"c":"o","x":0.47,"y":7.3},{"c":"o","x":0.38,"y":8},{"c":"o","x":0.5,"y":8.4},{"c":"o","x":0.42,"y":9.1},{"c":"o","x":0.48,"y":9.8},{"c":"o","x":0.45,"y":10.6},{"c":"o","x":0.5,"y":11.5},{"c":"o","x":0.47,"y":12.7},{"c":"o","x":0.28,"y":5.7},{"c":"o","x":0.55,"y":4.9},{"c":"o","x":0.26,"y":3.9},
{"c":"r","x":0.45,"y":20.7},{"c":"r","x":0.6,"y":20.7},{"c":"r","x":0.75,"y":20.7},{"c":"r","x":0.9,"y":20.7},{"c":"r","x":1.05,"y":20.7},{"c":"r","x":1.2,"y":20.7},{"c":"r","x":1.35,"y":20.7},{"c":"r","x":1.5,"y":20.7},{"c":"r","x":1.65,"y":20.7},
{"c":"r","x":0.55,"y":2.6},{"c":"r","x":0.65,"y":3},{"c":"r","x":0.75,"y":2.5},{"c":"r","x":0.85,"y":2.9},{"c":"r","x":0.6,"y":3.7},{"c":"r","x":0.7,"y":4.1},{"c":"r","x":0.8,"y":3.6},{"c":"r","x":0.9,"y":4.3},{"c":"r","x":0.58,"y":4.8},{"c":"r","x":0.68,"y":5.2},{"c":"r","x":0.78,"y":4.7},{"c":"r","x":0.88,"y":5.4},{"c":"r","x":0.6,"y":5.9},{"c":"r","x":0.7,"y":6.3},{"c":"r","x":0.82,"y":6},{"c":"r","x":0.62,"y":7},{"c":"r","x":0.72,"y":7.4},{"c":"r","x":0.85,"y":7.1},{"c":"r","x":0.6,"y":8.1},{"c":"r","x":0.7,"y":8.5},{"c":"r","x":0.8,"y":8.2},{"c":"r","x":0.65,"y":9.2},{"c":"r","x":0.75,"y":9.6},{"c":"r","x":0.9,"y":9},{"c":"r","x":0.62,"y":10.3},{"c":"r","x":0.72,"y":10.8},{"c":"r","x":0.82,"y":10.2},{"c":"r","x":0.68,"y":11.5},{"c":"r","x":0.78,"y":12},{"c":"r","x":0.65,"y":12.8},{"c":"r","x":0.75,"y":13.4},{"c":"r","x":0.7,"y":14.3},{"c":"r","x":0.8,"y":14.9},{"c":"r","x":0.95,"y":12.4},{"c":"r","x":0.92,"y":6.6},{"c":"r","x":1,"y":5},
{"c":"r","x":0.7,"y":15.5},{"c":"r","x":1.08,"y":15.1},{"c":"r","x":0.9,"y":14},{"c":"r","x":1.46,"y":12.7},{"c":"r","x":1.33,"y":11.1},{"c":"r","x":1.6,"y":11.6},{"c":"r","x":1.2,"y":7.5},{"c":"r","x":2.84,"y":2.8},{"c":"r","x":1.1,"y":10},{"c":"r","x":1.25,"y":9},{"c":"r","x":1.5,"y":6.5},{"c":"r","x":1.05,"y":3.5}],
"v4":[
{"c":"a","x":-0.3,"y":20.7},{"c":"a","x":-0.15,"y":20.7},{"c":"a","x":0,"y":20.7},{"c":"a","x":0.15,"y":20.7},
{"c":"a","x":0,"y":18},{"c":"a","x":-0.2,"y":11.5},{"c":"a","x":0.1,"y":10.5},{"c":"a","x":-0.1,"y":9.4},{"c":"a","x":0.2,"y":8.6},{"c":"a","x":-0.25,"y":8},{"c":"a","x":0.05,"y":7.3},{"c":"a","x":-0.15,"y":6.6},{"c":"a","x":0.25,"y":6},{"c":"a","x":-0.3,"y":5.5},{"c":"a","x":0.1,"y":4.9},{"c":"a","x":-0.05,"y":4.3},{"c":"a","x":0.2,"y":3.8},{"c":"a","x":-0.2,"y":3.3},{"c":"a","x":0,"y":2.8},
{"c":"a","x":-2.8,"y":1.5},{"c":"a","x":-2.6,"y":1.7},{"c":"a","x":-2.4,"y":1.6},{"c":"a","x":-2.2,"y":0.6},{"c":"a","x":-2,"y":1.2},{"c":"a","x":-1.7,"y":0.4},{"c":"a","x":-1.5,"y":1.8},{"c":"a","x":-1.3,"y":0.9},{"c":"a","x":-1.1,"y":2},{"c":"a","x":-0.9,"y":0.5},{"c":"a","x":-0.8,"y":1.4},{"c":"a","x":-0.6,"y":2.2},{"c":"a","x":-0.5,"y":0.8},{"c":"a","x":-0.4,"y":1.6},{"c":"a","x":-0.3,"y":0.3},{"c":"a","x":-0.2,"y":2.1},{"c":"a","x":-0.1,"y":1.1},{"c":"a","x":0,"y":0.4},{"c":"a","x":0.1,"y":1.8},{"c":"a","x":0.2,"y":0.9},{"c":"a","x":0.3,"y":2.3},{"c":"a","x":0.4,"y":0.5},{"c":"a","x":0.5,"y":1.5},{"c":"a","x":0.6,"y":0.2},{"c":"a","x":0.7,"y":1.2},{"c":"a","x":0.9,"y":0.7},{"c":"a","x":1.1,"y":1.6},{"c":"a","x":1.3,"y":0.5},{"c":"a","x":1.6,"y":1.1},{"c":"a","x":1.9,"y":0.6},{"c":"a","x":2.3,"y":1.3},{"c":"a","x":2.7,"y":0.8},{"c":"a","x":3,"y":1.4},{"c":"a","x":-0.7,"y":0.1},{"c":"a","x":0.25,"y":0.1},{"c":"a","x":-0.95,"y":1.9},{"c":"a","x":-0.75,"y":0.9},{"c":"a","x":-0.55,"y":1.2},{"c":"a","x":-0.35,"y":2.4},{"c":"a","x":-0.15,"y":0.6},{"c":"a","x":0.05,"y":1.3},{"c":"a","x":0.35,"y":1.1},{"c":"a","x":0.55,"y":2.2},{"c":"a","x":0.75,"y":0.4},{"c":"a","x":0.85,"y":1.9},{"c":"a","x":-0.45,"y":0.2},{"c":"a","x":0.45,"y":2},{"c":"a","x":-1.2,"y":1.3},{"c":"a","x":1,"y":1},{"c":"a","x":0.15,"y":2.4},{"c":"a","x":-0.25,"y":1.5},
{"c":"b","x":-2.85,"y":20.7},{"c":"b","x":-1.3,"y":20.7},{"c":"b","x":-1.2,"y":20.7},{"c":"b","x":-1.1,"y":20.7},{"c":"b","x":-1,"y":20.7},{"c":"b","x":-0.9,"y":20.7},{"c":"b","x":-0.8,"y":20.7},
{"c":"b","x":-0.58,"y":18.8},{"c":"b","x":-0.78,"y":15.1},{"c":"b","x":-0.9,"y":14.7},{"c":"b","x":-1.23,"y":12.5},{"c":"b","x":-1.05,"y":12.3},{"c":"b","x":-2.16,"y":10.3},{"c":"b","x":-2.1,"y":9.8},{"c":"b","x":-1.53,"y":10.7},{"c":"b","x":-1.35,"y":9.5},{"c":"b","x":-0.95,"y":11},{"c":"b","x":-0.8,"y":8.7},
{"c":"b","x":-0.95,"y":2.5},{"c":"b","x":-0.85,"y":2.9},{"c":"b","x":-0.75,"y":2.6},{"c":"b","x":-0.65,"y":3.1},{"c":"b","x":-0.9,"y":3.6},{"c":"b","x":-0.8,"y":4},{"c":"b","x":-0.7,"y":3.7},{"c":"b","x":-0.62,"y":4.4},{"c":"b","x":-0.95,"y":4.6},{"c":"b","x":-0.85,"y":5},{"c":"b","x":-0.72,"y":5.3},{"c":"b","x":-0.65,"y":5.8},{"c":"b","x":-0.9,"y":6},{"c":"b","x":-0.78,"y":6.5},{"c":"b","x":-0.68,"y":6.9},{"c":"b","x":-0.85,"y":7.4},{"c":"b","x":-0.7,"y":7.9},{"c":"b","x":-0.95,"y":8.3},{"c":"b","x":-1.1,"y":4},{"c":"b","x":-1.05,"y":2.8},{"c":"b","x":-1.2,"y":3.3},{"c":"b","x":-0.6,"y":2.6},
{"c":"l","x":-0.65,"y":20.7},{"c":"l","x":-0.55,"y":20.7},{"c":"l","x":-0.45,"y":20.7},
{"c":"l","x":-0.56,"y":2.5},{"c":"l","x":-0.45,"y":2.8},{"c":"l","x":-0.38,"y":2.6},{"c":"l","x":-0.52,"y":3.4},{"c":"l","x":-0.42,"y":3.8},{"c":"l","x":-0.55,"y":4.5},{"c":"l","x":-0.44,"y":4.9},{"c":"l","x":-0.36,"y":5.4},{"c":"l","x":-0.5,"y":5.8},{"c":"l","x":-0.4,"y":6.4},{"c":"l","x":-0.54,"y":7},{"c":"l","x":-0.45,"y":7.6},{"c":"l","x":-0.5,"y":8.5},{"c":"l","x":-0.42,"y":9.3},{"c":"l","x":-0.48,"y":10.2},{"c":"l","x":-0.55,"y":11},{"c":"l","x":-0.45,"y":12},{"c":"l","x":-0.5,"y":13.2},{"c":"l","x":-0.44,"y":14.8},{"c":"l","x":-0.38,"y":4.2},
{"c":"o","x":0.36,"y":2.5},{"c":"o","x":0.46,"y":2.7},{"c":"o","x":0.56,"y":2.5},{"c":"o","x":0.66,"y":2.8},{"c":"o","x":0.4,"y":3.3},{"c":"o","x":0.5,"y":3.6},{"c":"o","x":0.6,"y":3.2},{"c":"o","x":0.38,"y":4.2},{"c":"o","x":0.48,"y":4.5},{"c":"o","x":0.58,"y":4.1},{"c":"o","x":0.66,"y":4.7},{"c":"o","x":0.42,"y":5.1},{"c":"o","x":0.52,"y":5.4},{"c":"o","x":0.62,"y":5.8},{"c":"o","x":0.4,"y":6.1},{"c":"o","x":0.5,"y":6.5},{"c":"o","x":0.6,"y":6.9},{"c":"o","x":0.45,"y":7.3},{"c":"o","x":0.55,"y":7.7},{"c":"o","x":0.48,"y":8.3},{"c":"o","x":0.58,"y":8.8},{"c":"o","x":0.5,"y":9.4},{"c":"o","x":0.55,"y":10},{"c":"o","x":0.52,"y":12.5},{"c":"o","x":0.45,"y":11},{"c":"o","x":0.62,"y":3.7},
{"c":"r","x":0.35,"y":20.7},{"c":"r","x":0.5,"y":20.7},{"c":"r","x":0.6,"y":20.7},{"c":"r","x":0.7,"y":20.7},{"c":"r","x":0.8,"y":20.7},{"c":"r","x":0.9,"y":20.7},{"c":"r","x":1,"y":20.7},{"c":"r","x":1.1,"y":20.7},{"c":"r","x":1.2,"y":20.7},{"c":"r","x":1.35,"y":20.7},{"c":"r","x":1.5,"y":20.7},{"c":"r","x":1.65,"y":20.7},{"c":"r","x":1.86,"y":20.7},
{"c":"r","x":0.7,"y":2.6},{"c":"r","x":0.8,"y":3},{"c":"r","x":0.9,"y":2.5},{"c":"r","x":1,"y":2.9},{"c":"r","x":1.15,"y":2.6},{"c":"r","x":0.72,"y":3.7},{"c":"r","x":0.85,"y":4.1},{"c":"r","x":0.95,"y":3.6},{"c":"r","x":1.1,"y":4.2},{"c":"r","x":0.7,"y":4.9},{"c":"r","x":0.8,"y":5.3},{"c":"r","x":0.92,"y":4.8},{"c":"r","x":1.05,"y":5.5},{"c":"r","x":1.2,"y":5},{"c":"r","x":0.72,"y":6.1},{"c":"r","x":0.82,"y":6.6},{"c":"r","x":0.95,"y":6.2},{"c":"r","x":1.1,"y":6.9},{"c":"r","x":0.75,"y":7.4},{"c":"r","x":0.88,"y":7.9},{"c":"r","x":1,"y":7.5},{"c":"r","x":1.25,"y":7.2},{"c":"r","x":0.7,"y":8.6},{"c":"r","x":0.8,"y":9.1},{"c":"r","x":0.92,"y":8.7},{"c":"r","x":1.1,"y":9.4},{"c":"r","x":0.75,"y":10},{"c":"r","x":0.86,"y":10.6},{"c":"r","x":1,"y":10.2},{"c":"r","x":1.2,"y":11},{"c":"r","x":0.8,"y":11.7},{"c":"r","x":0.95,"y":12.3},{"c":"r","x":0.72,"y":12.9},{"c":"r","x":0.85,"y":13.6},{"c":"r","x":1.36,"y":9},{"c":"r","x":1.3,"y":4},
{"c":"r","x":1.48,"y":18.3},{"c":"r","x":1.6,"y":17.5},{"c":"r","x":0.73,"y":15.1},{"c":"r","x":0.9,"y":14.7},{"c":"r","x":1.74,"y":12.7},{"c":"r","x":1.5,"y":11.5},{"c":"r","x":1.25,"y":10.7},{"c":"r","x":1.9,"y":12.2},{"c":"r","x":1.4,"y":6}]
},
"layer":[
{
"encoding":{"x":{"field":"x","type":"quantitative","scale":{"domain":[0,728],"range":[0,728],"nice":false,"zero":false},"axis":null},"y":{"field":"y","type":"quantitative","scale":{"domain":[0,689],"range":[0,689],"nice":false,"zero":false},"axis":null}},
"layer":[
{"data":{"name":"guides"},"mark":{"type":"rule","color":"#a6a6a6","strokeWidth":3},"encoding":{"x2":{"field":"x2"}}},
{"data":{"name":"arrowhead"},"mark":{"type":"point","shape":"M-1,-1L1,0L-1,1Z","filled":true,"color":"#a6a6a6","size":90,"opacity":1}},
{"data":{"name":"boxes"},"mark":{"type":"rect","fill":"transparent","stroke":"#456c25","strokeWidth":2},"encoding":{"x2":{"field":"x2"},"y2":{"field":"y2"}}},
{"data":{"name":"polys"},"mark":{"type":"line","color":"#456c25","strokeWidth":2,"interpolate":"linear","strokeJoin":"miter"},"encoding":{"detail":{"field":"b"},"order":{"field":"i","type":"quantitative"}}},
{"data":{"name":"edges"},"mark":{"type":"line","color":"#6e6e6e","strokeWidth":1,"interpolate":"basis"},"encoding":{"detail":{"field":"e"},"order":{"field":"i","type":"quantitative"}}},
{"data":{"name":"nodes"},"mark":{"type":"point","filled":true,"opacity":1,"size":160,"stroke":"#000000","strokeOpacity":0.35,"strokeWidth":0.6},"encoding":{"color":{"field":"g","type":"nominal","scale":{"domain":["2hrs Up","2hrs Down","4hrs Up","4hrs Down","6hrs Up","6hrs Down","8hrs Up","8hrs Down"],"range":["#FFD700","#FF8C00","#FF0000","#8B0000","#E4A4DC","#9370DB","#4169E1","#00007F"]},"legend":null},"shape":{"field":"s","type":"nominal","scale":{"domain":["full","left","tr","br","top","bot"],"range":["M-1,0A1,1 0 1,1 1,0A1,1 0 1,1 -1,0Z","M0,-1A1,1 0 0,0 0,1Z","M0,0L0,-1A1,1 0 0,1 1,0Z","M0,0L1,0A1,1 0 0,1 0,1Z","M-1,0A1,1 0 0,1 1,0Z","M-1,0A1,1 0 0,0 1,0Z"]},"legend":null}}},
{"data":{"name":"labels"},"mark":{"type":"text","font":"Liberation Sans","fontSize":9.6,"baseline":"top","dy":-4,"lineHeight":11.7,"align":"center","color":"#222222"},"encoding":{"text":{"field":"l","type":"nominal"}}},
{"data":{"name":"groups"},"mark":{"type":"text","font":"Lato","fontWeight":"bold","fontSize":17,"baseline":"middle","align":"center","color":"#4c7526"},"encoding":{"text":{"field":"t","type":"nominal"}}},
{"data":{"name":"groupsrot"},"mark":{"type":"text","font":"Lato","fontWeight":"bold","fontSize":17,"baseline":"middle","align":"center","angle":270,"color":"#4c7526"},"encoding":{"text":{"field":"t","type":"nominal"}}},
{"data":{"name":"updown"},"mark":{"type":"text","font":"Lato","fontWeight":"bold","fontSize":21,"baseline":"middle","align":"center","color":"#a0a0a0"},"encoding":{"text":{"field":"t","type":"nominal"}}},
{"data":{"name":"legend"},"mark":{"type":"circle","size":125,"opacity":1,"stroke":"#000000","strokeOpacity":0.3,"strokeWidth":0.6},"encoding":{"color":{"field":"g","type":"nominal","scale":{"domain":["2hrs Up","2hrs Down","4hrs Up","4hrs Down","6hrs Up","6hrs Down","8hrs Up","8hrs Down"],"range":["#FFD700","#FF8C00","#FF0000","#8B0000","#E4A4DC","#9370DB","#4169E1","#00007F"]},"legend":null}}},
{"data":{"name":"legend"},"mark":{"type":"text","font":"Liberation Sans","fontSize":11,"baseline":"middle","align":"left","dx":8,"color":"#222222"},"encoding":{"text":{"field":"g","type":"nominal"}}},
{"data":{"name":"letters"},"mark":{"type":"text","font":"Liberation Sans","fontWeight":"bold","fontSize":18,"baseline":"middle","align":"left","color":"#000000"},"encoding":{"text":{"field":"t","type":"nominal"}}},
{"data":{"name":"vtitles"},"mark":{"type":"text","font":"Liberation Sans","fontSize":19,"baseline":"middle","align":"center","color":"#000000"},"encoding":{"text":{"field":"t","type":"nominal"}}},
{"data":{"name":"counts"},"mark":{"type":"text","font":"Liberation Sans","fontSize":12,"baseline":"middle","align":"center"},"encoding":{"text":{"field":"t","type":"nominal"},"color":{"field":"c","type":"nominal","scale":{"domain":["l","o","b","r"],"range":["#6c9be6","#f7941d","#1c1cd6","#8b1c1c"]},"legend":null}}},
{"data":{"name":"venncircles"},"mark":{"type":"circle","size":2552,"opacity":1},"encoding":{"color":{"field":"set","type":"nominal","scale":{"domain":["RNA seq","Proteomics"],"range":["#FFD98E","#DDA6E9"]},"legend":null}}},
{"data":{"name":"vennlens"},"mark":{"type":"point","shape":"M0,-0.73A1,1 0 0,0 0,0.73A1,1 0 0,0 0,-0.73Z","filled":true,"color":"#D48DA3","size":3249,"opacity":1}},
{"data":{"name":"venncircles"},"mark":{"type":"circle","size":2552,"filled":false,"stroke":"#1a1a1a","strokeWidth":1,"opacity":1}},
{"data":{"name":"vennnums"},"mark":{"type":"text","font":"Liberation Sans","fontSize":14,"baseline":"middle","align":"center","color":"#111111"},"encoding":{"text":{"field":"n","type":"nominal"}}},
{"data":{"name":"venntitles"},"mark":{"type":"text","font":"Lato","fontWeight":"bold","fontSize":13,"baseline":"middle","align":"center","color":"#111111"},"encoding":{"text":{"field":"t","type":"nominal"}}},
{"data":{"name":"vennlegend"},"mark":{"type":"text","font":"Lato","fontWeight":"bold","fontSize":21,"baseline":"middle","align":"left"},"encoding":{"text":{"field":"t","type":"nominal"},"color":{"field":"t","type":"nominal","scale":{"domain":["RNA seq","Proteomics"],"range":["#FFD17A","#DCA0E8"]},"legend":null}}},
{"data":{"name":"bcells"},"mark":{"type":"rect","fill":"transparent","stroke":"#a9a9a9","strokeWidth":1},"encoding":{"x2":{"field":"x2"},"y2":{"field":"y2"}}},
{"data":{"name":"btitles"},"mark":{"type":"text","font":"Lato","fontSize":14,"baseline":"middle","align":"center","color":"#111111"},"encoding":{"text":{"field":"t","type":"nominal"}}},
{"data":{"name":"barrows"},"mark":{"type":"rule","strokeWidth":2.5},"encoding":{"x2":{"field":"x2"},"color":{"field":"d","type":"nominal","scale":{"domain":["down","up"],"range":["#4062AC","#D9681F"]},"legend":null}}},
{"data":{"name":"barrows"},"transform":[{"filter":"datum.d=='down'"}],"mark":{"type":"point","shape":"M1.4,-1L0,0L1.4,1","filled":false,"strokeWidth":2.2,"size":100,"opacity":1,"color":"#4062AC"}},
{"data":{"name":"barrows"},"transform":[{"filter":"datum.d=='up'"}],"mark":{"type":"point","shape":"M-1.4,-1L0,0L-1.4,1","filled":false,"strokeWidth":2.2,"size":100,"opacity":1,"color":"#D9681F"},"encoding":{"x":{"field":"x2","type":"quantitative","scale":{"domain":[0,728],"range":[0,728],"nice":false,"zero":false},"axis":null}}},
{"data":{"name":"bnums"},"mark":{"type":"text","font":"Lato","fontSize":14,"baseline":"middle","align":"center"},"encoding":{"text":{"field":"n","type":"nominal"},"color":{"field":"d","type":"nominal","scale":{"domain":["down","up"],"range":["#4062AC","#D9681F"]},"legend":null}}}
],
"resolve":{"scale":{"color":"independent","shape":"independent"}}
},
{
"layer":[
{"data":{"values":[{}]},"mark":{"type":"rule","color":"#cccccc","strokeWidth":1},"encoding":{"x":{"datum":-2.77,"type":"quantitative","scale":{"domain":[-3.28,3.28],"range":[67,154],"nice":false,"zero":false},"axis":null},"x2":{"datum":3.0},"y":{"datum":20,"type":"quantitative","scale":{"domain":[-0.95,21.4],"range":[117,23],"nice":false,"zero":false},"axis":null}}},
{"data":{"values":[{}]},"mark":{"type":"rect","fill":"transparent","stroke":"#b5b5b5","strokeWidth":1.5},"encoding":{"x":{"datum":-3.28,"type":"quantitative","scale":{"domain":[-3.28,3.28],"range":[67,154],"nice":false,"zero":false},"axis":null},"x2":{"datum":3.28},"y":{"datum":-0.95,"type":"quantitative","scale":{"domain":[-0.95,21.4],"range":[117,23],"nice":false,"zero":false},"axis":null},"y2":{"datum":21.4}}},
{"data":{"name":"xt"},"mark":{"type":"rule","color":"#999999","strokeWidth":1},"encoding":{"x":{"field":"v","type":"quantitative","scale":{"domain":[-3.28,3.28],"range":[67,154],"nice":false,"zero":false},"axis":null},"y":{"datum":-0.95,"type":"quantitative","scale":{"domain":[-0.95,21.4],"range":[117,23],"nice":false,"zero":false},"axis":null},"y2":{"datum":-1.66}}},
{"data":{"name":"xt"},"mark":{"type":"text","font":"Liberation Sans","fontSize":9.5,"color":"#444444","baseline":"middle","align":"center"},"encoding":{"x":{"field":"v","type":"quantitative","scale":{"domain":[-3.28,3.28],"range":[67,154],"nice":false,"zero":false},"axis":null},"y":{"datum":-2.14,"type":"quantitative","scale":{"domain":[-0.95,21.4],"range":[117,23],"nice":false,"zero":false},"axis":null},"text":{"field":"v","type":"nominal"}}},
{"data":{"values":[{"t":"log₂(fold change)"}]},"mark":{"type":"text","font":"Liberation Sans","fontSize":10.5,"color":"#111111","baseline":"middle","align":"center"},"encoding":{"x":{"datum":-0.15,"type":"quantitative","scale":{"domain":[-3.28,3.28],"range":[67,154],"nice":false,"zero":false},"axis":null},"y":{"datum":-4.87,"type":"quantitative","scale":{"domain":[-0.95,21.4],"range":[117,23],"nice":false,"zero":false},"axis":null},"text":{"field":"t","type":"nominal"}}},
{"data":{"name":"yt"},"mark":{"type":"rule","color":"#999999","strokeWidth":1},"encoding":{"y":{"field":"v","type":"quantitative","scale":{"domain":[-0.95,21.4],"range":[117,23],"nice":false,"zero":false},"axis":null},"x":{"datum":-3.28,"type":"quantitative","scale":{"domain":[-3.28,3.28],"range":[67,154],"nice":false,"zero":false},"axis":null},"x2":{"datum":-3.51}}},
{"data":{"name":"yt"},"mark":{"type":"text","font":"Liberation Sans","fontSize":10,"color":"#444444","baseline":"bottom","align":"center","angle":270},"encoding":{"y":{"field":"v","type":"quantitative","scale":{"domain":[-0.95,21.4],"range":[117,23],"nice":false,"zero":false},"axis":null},"x":{"datum":-3.58,"type":"quantitative","scale":{"domain":[-3.28,3.28],"range":[67,154],"nice":false,"zero":false},"axis":null},"text":{"field":"v","type":"nominal"}}},
{"data":{"values":[{"t":"-log₁₀p-value"}]},"mark":{"type":"text","font":"Liberation Sans","fontSize":11,"color":"#111111","baseline":"middle","align":"center","angle":270},"encoding":{"x":{"datum":-4.87,"type":"quantitative","scale":{"domain":[-3.28,3.28],"range":[67,154],"nice":false,"zero":false},"axis":null},"y":{"datum":10.58,"type":"quantitative","scale":{"domain":[-0.95,21.4],"range":[117,23],"nice":false,"zero":false},"axis":null},"text":{"field":"t","type":"nominal"}}},
{"data":{"name":"v1"},"mark":{"type":"circle","size":7,"opacity":1},"encoding":{
"x":{"field":"x","type":"quantitative","scale":{"domain":[-3.28,3.28],"range":[67,154],"nice":false,"zero":false},"axis":null},
"y":{"field":"y","type":"quantitative","scale":{"domain":[-0.95,21.4],"range":[117,23],"nice":false,"zero":false},"axis":null},
"color":{"field":"c","type":"nominal","scale":{"domain":["a","b","l","o","r"],"range":["#bebebe","#1414f0","#6b9ff0","#ff8c00","#8e1414"]},"legend":null},
"order":{"field":"c","type":"ordinal"}}}
]
},
{
"layer":[
{"data":{"values":[{}]},"mark":{"type":"rule","color":"#cccccc","strokeWidth":1},"encoding":{"x":{"datum":-3.1,"type":"quantitative","scale":{"domain":[-3.53,3.08],"range":[157,245],"nice":false,"zero":false},"axis":null},"x2":{"datum":3.0},"y":{"datum":20,"type":"quantitative","scale":{"domain":[-0.95,21.4],"range":[117,23],"nice":false,"zero":false},"axis":null}}},
{"data":{"values":[{}]},"mark":{"type":"rect","fill":"transparent","stroke":"#b5b5b5","strokeWidth":1.5},"encoding":{"x":{"datum":-3.53,"type":"quantitative","scale":{"domain":[-3.53,3.08],"range":[157,245],"nice":false,"zero":false},"axis":null},"x2":{"datum":3.08},"y":{"datum":-0.95,"type":"quantitative","scale":{"domain":[-0.95,21.4],"range":[117,23],"nice":false,"zero":false},"axis":null},"y2":{"datum":21.4}}},
{"data":{"name":"xt"},"mark":{"type":"rule","color":"#999999","strokeWidth":1},"encoding":{"x":{"field":"v","type":"quantitative","scale":{"domain":[-3.53,3.08],"range":[157,245],"nice":false,"zero":false},"axis":null},"y":{"datum":-0.95,"type":"quantitative","scale":{"domain":[-0.95,21.4],"range":[117,23],"nice":false,"zero":false},"axis":null},"y2":{"datum":-1.66}}},
{"data":{"name":"xt"},"mark":{"type":"text","font":"Liberation Sans","fontSize":9.5,"color":"#444444","baseline":"middle","align":"center"},"encoding":{"x":{"field":"v","type":"quantitative","scale":{"domain":[-3.53,3.08],"range":[157,245],"nice":false,"zero":false},"axis":null},"y":{"datum":-2.14,"type":"quantitative","scale":{"domain":[-0.95,21.4],"range":[117,23],"nice":false,"zero":false},"axis":null},"text":{"field":"v","type":"nominal"}}},
{"data":{"values":[{"t":"log₂(fold change)"}]},"mark":{"type":"text","font":"Liberation Sans","fontSize":10.5,"color":"#111111","baseline":"middle","align":"center"},"encoding":{"x":{"datum":-0.19,"type":"quantitative","scale":{"domain":[-3.53,3.08],"range":[157,245],"nice":false,"zero":false},"axis":null},"y":{"datum":-4.87,"type":"quantitative","scale":{"domain":[-0.95,21.4],"range":[117,23],"nice":false,"zero":false},"axis":null},"text":{"field":"t","type":"nominal"}}},
{"data":{"name":"yt"},"mark":{"type":"rule","color":"#999999","strokeWidth":1},"encoding":{"y":{"field":"v","type":"quantitative","scale":{"domain":[-0.95,21.4],"range":[117,23],"nice":false,"zero":false},"axis":null},"x":{"datum":-3.53,"type":"quantitative","scale":{"domain":[-3.53,3.08],"range":[157,245],"nice":false,"zero":false},"axis":null},"x2":{"datum":-3.76}}},
{"data":{"name":"v2"},"mark":{"type":"circle","size":7,"opacity":1},"encoding":{
"x":{"field":"x","type":"quantitative","scale":{"domain":[-3.53,3.08],"range":[157,245],"nice":false,"zero":false},"axis":null},
"y":{"field":"y","type":"quantitative","scale":{"domain":[-0.95,21.4],"range":[117,23],"nice":false,"zero":false},"axis":null},
"color":{"field":"c","type":"nominal","scale":{"domain":["a","b","l","o","r"],"range":["#bebebe","#1414f0","#6b9ff0","#ff8c00","#8e1414"]},"legend":null},
"order":{"field":"c","type":"ordinal"}}}
]
},
{
"layer":[
{"data":{"values":[{}]},"mark":{"type":"rule","color":"#cccccc","strokeWidth":1},"encoding":{"x":{"datum":-3.0,"type":"quantitative","scale":{"domain":[-3.46,3.0],"range":[249,335],"nice":false,"zero":false},"axis":null},"x2":{"datum":2.9},"y":{"datum":20,"type":"quantitative","scale":{"domain":[-0.95,21.4],"range":[117,23],"nice":false,"zero":false},"axis":null}}},
{"data":{"values":[{}]},"mark":{"type":"rect","fill":"transparent","stroke":"#b5b5b5","strokeWidth":1.5},"encoding":{"x":{"datum":-3.46,"type":"quantitative","scale":{"domain":[-3.46,3.0],"range":[249,335],"nice":false,"zero":false},"axis":null},"x2":{"datum":3.0},"y":{"datum":-0.95,"type":"quantitative","scale":{"domain":[-0.95,21.4],"range":[117,23],"nice":false,"zero":false},"axis":null},"y2":{"datum":21.4}}},
{"data":{"name":"xt"},"mark":{"type":"rule","color":"#999999","strokeWidth":1},"encoding":{"x":{"field":"v","type":"quantitative","scale":{"domain":[-3.46,3.0],"range":[249,335],"nice":false,"zero":false},"axis":null},"y":{"datum":-0.95,"type":"quantitative","scale":{"domain":[-0.95,21.4],"range":[117,23],"nice":false,"zero":false},"axis":null},"y2":{"datum":-1.66}}},
{"data":{"name":"xt"},"mark":{"type":"text","font":"Liberation Sans","fontSize":9.5,"color":"#444444","baseline":"middle","align":"center"},"encoding":{"x":{"field":"v","type":"quantitative","scale":{"domain":[-3.46,3.0],"range":[249,335],"nice":false,"zero":false},"axis":null},"y":{"datum":-2.14,"type":"quantitative","scale":{"domain":[-0.95,21.4],"range":[117,23],"nice":false,"zero":false},"axis":null},"text":{"field":"v","type":"nominal"}}},
{"data":{"values":[{"t":"log₂(fold change)"}]},"mark":{"type":"text","font":"Liberation Sans","fontSize":10.5,"color":"#111111","baseline":"middle","align":"center"},"encoding":{"x":{"datum":-0.25,"type":"quantitative","scale":{"domain":[-3.46,3.0],"range":[249,335],"nice":false,"zero":false},"axis":null},"y":{"datum":-4.87,"type":"quantitative","scale":{"domain":[-0.95,21.4],"range":[117,23],"nice":false,"zero":false},"axis":null},"text":{"field":"t","type":"nominal"}}},
{"data":{"name":"yt"},"mark":{"type":"rule","color":"#999999","strokeWidth":1},"encoding":{"y":{"field":"v","type":"quantitative","scale":{"domain":[-0.95,21.4],"range":[117,23],"nice":false,"zero":false},"axis":null},"x":{"datum":-3.46,"type":"quantitative","scale":{"domain":[-3.46,3.0],"range":[249,335],"nice":false,"zero":false},"axis":null},"x2":{"datum":-3.69}}},
{"data":{"name":"v3"},"mark":{"type":"circle","size":7,"opacity":1},"encoding":{
"x":{"field":"x","type":"quantitative","scale":{"domain":[-3.46,3.0],"range":[249,335],"nice":false,"zero":false},"axis":null},
"y":{"field":"y","type":"quantitative","scale":{"domain":[-0.95,21.4],"range":[117,23],"nice":false,"zero":false},"axis":null},
"color":{"field":"c","type":"nominal","scale":{"domain":["a","b","l","o","r"],"range":["#bebebe","#1414f0","#6b9ff0","#ff8c00","#8e1414"]},"legend":null},
"order":{"field":"c","type":"ordinal"}}}
]
},
{
"layer":[
{"data":{"values":[{}]},"mark":{"type":"rule","color":"#cccccc","strokeWidth":1},"encoding":{"x":{"datum":-3.0,"type":"quantitative","scale":{"domain":[-3.3,3.38],"range":[341,430],"nice":false,"zero":false},"axis":null},"x2":{"datum":3.1},"y":{"datum":20,"type":"quantitative","scale":{"domain":[-0.95,21.4],"range":[117,23],"nice":false,"zero":false},"axis":null}}},
{"data":{"values":[{}]},"mark":{"type":"rect","fill":"transparent","stroke":"#b5b5b5","strokeWidth":1.5},"encoding":{"x":{"datum":-3.3,"type":"quantitative","scale":{"domain":[-3.3,3.38],"range":[341,430],"nice":false,"zero":false},"axis":null},"x2":{"datum":3.38},"y":{"datum":-0.95,"type":"quantitative","scale":{"domain":[-0.95,21.4],"range":[117,23],"nice":false,"zero":false},"axis":null},"y2":{"datum":21.4}}},
{"data":{"name":"xt"},"mark":{"type":"rule","color":"#999999","strokeWidth":1},"encoding":{"x":{"field":"v","type":"quantitative","scale":{"domain":[-3.3,3.38],"range":[341,430],"nice":false,"zero":false},"axis":null},"y":{"datum":-0.95,"type":"quantitative","scale":{"domain":[-0.95,21.4],"range":[117,23],"nice":false,"zero":false},"axis":null},"y2":{"datum":-1.66}}},
{"data":{"name":"xt"},"mark":{"type":"text","font":"Liberation Sans","fontSize":9.5,"color":"#444444","baseline":"middle","align":"center"},"encoding":{"x":{"field":"v","type":"quantitative","scale":{"domain":[-3.3,3.38],"range":[341,430],"nice":false,"zero":false},"axis":null},"y":{"datum":-2.14,"type":"quantitative","scale":{"domain":[-0.95,21.4],"range":[117,23],"nice":false,"zero":false},"axis":null},"text":{"field":"v","type":"nominal"}}},
{"data":{"values":[{"t":"log₂(fold change)"}]},"mark":{"type":"text","font":"Liberation Sans","fontSize":10.5,"color":"#111111","baseline":"middle","align":"center"},"encoding":{"x":{"datum":0,"type":"quantitative","scale":{"domain":[-3.3,3.38],"range":[341,430],"nice":false,"zero":false},"axis":null},"y":{"datum":-4.87,"type":"quantitative","scale":{"domain":[-0.95,21.4],"range":[117,23],"nice":false,"zero":false},"axis":null},"text":{"field":"t","type":"nominal"}}},
{"data":{"name":"yt"},"mark":{"type":"rule","color":"#999999","strokeWidth":1},"encoding":{"y":{"field":"v","type":"quantitative","scale":{"domain":[-0.95,21.4],"range":[117,23],"nice":false,"zero":false},"axis":null},"x":{"datum":-3.3,"type":"quantitative","scale":{"domain":[-3.3,3.38],"range":[341,430],"nice":false,"zero":false},"axis":null},"x2":{"datum":-3.53}}},
{"data":{"name":"v4"},"mark":{"type":"circle","size":7,"opacity":1},"encoding":{
"x":{"field":"x","type":"quantitative","scale":{"domain":[-3.3,3.38],"range":[341,430],"nice":false,"zero":false},"axis":null},
"y":{"field":"y","type":"quantitative","scale":{"domain":[-0.95,21.4],"range":[117,23],"nice":false,"zero":false},"axis":null},
"color":{"field":"c","type":"nominal","scale":{"domain":["a","b","l","o","r"],"range":["#bebebe","#1414f0","#6b9ff0","#ff8c00","#8e1414"]},"legend":null},
"order":{"field":"c","type":"ordinal"}}}
]
}
],
"resolve":{"scale":{"x":"independent","y":"independent","color":"independent","shape":"independent"}}
}
